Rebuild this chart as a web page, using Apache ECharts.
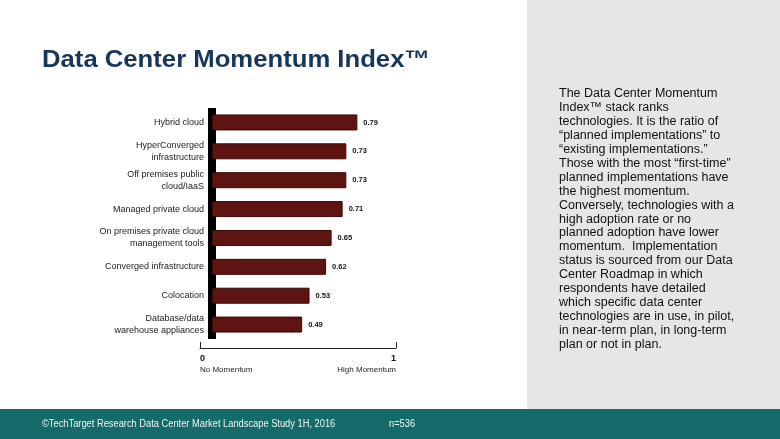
<!DOCTYPE html>
<html><head><meta charset="utf-8">
<script src="https://cdn.jsdelivr.net/npm/echarts@6/dist/echarts.min.js"></script>
<style>html,body{margin:0;padding:0;background:#fff}#c{width:780px;height:439px}</style>
</head><body><div id="c"></div>
<script>
const categories = ['Hybrid cloud', 'HyperConverged\ninfrastructure', 'Off premises public\ncloud/IaaS', 'Managed private cloud', 'On premises private cloud\nmanagement tools', 'Converged infrastructure', 'Colocation', 'Database/data\nwarehouse appliances'];
const values = [0.79, 0.73, 0.73, 0.71, 0.65, 0.62, 0.53, 0.49];
const scaleTicks = ['0', '1'];
const scaleNames = ['No Momentum', 'High Momentum'];
const titleText = 'Data Center Momentum Index\u2122';
const panelLines = [
 'The Data Center Momentum',
 'Index\u2122 stack ranks',
 'technologies. It is the ratio of',
 '\u201cplanned implementations\u201d to',
 '\u201cexisting implementations.\u201d',
 'Those with the most \u201cfirst-time\u201d',
 'planned implementations have',
 'the highest momentum.',
 'Conversely, technologies with a',
 'high adoption rate or no',
 'planned adoption have lower',
 'momentum.  Implementation',
 'status is sourced from our Data',
 'Center Roadmap in which',
 'respondents have detailed',
 'which specific data center',
 'technologies are in use, in pilot,',
 'in near-term plan, in long-term',
 'plan or not in plan.'
];
const footerText = '\u00a9TechTarget Research Data Center Market Landscape Study 1H, 2016';
const footerN = 'n=536';

const chart = echarts.init(document.getElementById('c'), null, {renderer: 'canvas'});
const F = '"Liberation Sans", Arial, sans-serif';
chart.setOption({
  animation: false,
  backgroundColor: '#ffffff',
  textStyle: {fontFamily: F},
  graphic: [
    {type: 'rect', shape: {x: 527, y: 0, width: 253, height: 409}, style: {fill: '#e6e6e6'}, silent: true, z: -10},
    {type: 'rect', shape: {x: 0, y: 409, width: 780, height: 30}, style: {fill: '#156a6a'}, silent: true, z: -10},
    {type: 'text', x: 42, y: 48.5, scaleX: 1.07, scaleY: 1,
     style: {x: 0, y: 0, text: titleText, font: 'bold 24px ' + F, fill: '#16365a', verticalAlign: 'top', align: 'left'}},
    {type: 'text', left: 559, top: 87, style: {text: panelLines.join('\n'), font: '12.5px ' + F, lineHeight: 13.9, fill: '#111111'}},
    {type: 'text', x: 42, y: 424, scaleX: 0.93,
     style: {x: 0, y: 0, text: footerText, font: '10px ' + F, fill: '#eef4f4', verticalAlign: 'middle', align: 'left'}},
    {type: 'text', x: 389, y: 424, scaleX: 0.93,
     style: {x: 0, y: 0, text: footerN, font: '10px ' + F, fill: '#eef4f4', verticalAlign: 'middle', align: 'left'}}
  ],
  grid: [
    {left: 212, top: 108, width: 184, height: 231},
    {left: 200, top: 300, width: 196, height: 48}
  ],
  xAxis: [
    {gridIndex: 0, type: 'value', min: 0, max: 1, show: false},
    {gridIndex: 1, type: 'value', min: 0, max: 1, interval: 1,
     axisLine: {show: true, lineStyle: {color: '#222', width: 1}},
     axisTick: {show: true, inside: true, length: 6, lineStyle: {color: '#222'}},
     splitLine: {show: false},
     axisLabel: {margin: 5, alignMinLabel: 'left', alignMaxLabel: 'right',
       formatter: function (v) { const i = v >= 1 ? 1 : 0; return '{a|' + scaleTicks[i] + '}\n{b|' + scaleNames[i] + '}'; },
       rich: {a: {fontSize: 9, fontWeight: 'bold', color: '#111', lineHeight: 11}, b: {fontSize: 8, color: '#222', lineHeight: 11}}}
    }
  ],
  yAxis: [
    {gridIndex: 0, type: 'category', data: categories, inverse: true,
     axisLine: {show: true, lineStyle: {color: '#000', width: 8, cap: 'butt'}},
     axisTick: {show: false},
     axisLabel: {margin: 8, fontSize: 9, color: '#222', lineHeight: 12, align: 'right'}},
    {gridIndex: 1, type: 'value', show: false, min: 0, max: 1}
  ],
  series: [
    {type: 'bar', xAxisIndex: 0, yAxisIndex: 0, data: values, barWidth: 16,
     itemStyle: {color: '#5e1512', borderColor: '#3a0806', borderWidth: 1},
     label: {show: true, position: 'right', distance: 6, fontSize: 7.5, fontWeight: 'bold', color: '#111',
       formatter: function (p) { return p.value.toFixed(2); }}}
  ]
});
</script></body></html>
